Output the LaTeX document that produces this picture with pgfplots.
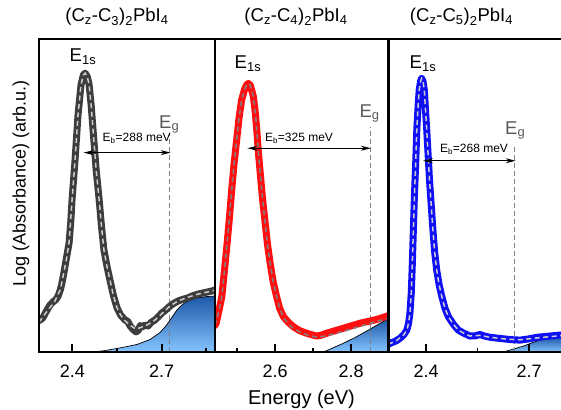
\documentclass[border=0pt]{standalone}
\usepackage{fontspec}
\setmainfont{Liberation Sans}
\usepackage{pgfplots}
\pgfplotsset{compat=1.18}
\usetikzlibrary{arrows.meta}

\definecolor{cthree}{HTML}{3D3D3D}
\definecolor{cfour}{HTML}{FF0F0F}
\definecolor{cfive}{HTML}{1010F5}
\definecolor{edgetop}{HTML}{1C58A8}
\definecolor{edgebot}{HTML}{86C4FF}
\definecolor{eglabel}{HTML}{5A5A5A}

\pgfplotsset{
  panel/.style={
    scale only axis, height=313pt, anchor=south west,
    ymin=0, ymax=1, ytick=\empty,
    axis on top,
    axis line style={line width=2.4pt},
    xtick pos=left, xtick align=inside,
    major tick length=8pt, minor tick length=4.5pt,
    xtick style={draw=black, line width=1.8pt},
    xminorticks=true,
    /pgf/number format/assume math mode=true,
    /pgf/number format/fixed, /pgf/number format/precision=1,
    xticklabel style={font=\fontsize{18}{18}\selectfont, anchor=base, yshift=-25pt},
  },
}
\tikzset{
  meas/.style={line width=7pt, line join=round, line cap=round},
  fitline/.style={line width=1.5pt, dash pattern=on 5pt off 3.5pt},
  edge/.style={draw=black, line width=0.7pt, top color=edgetop, bottom color=edgebot},
  eg/.style={draw=gray, line width=1pt, dash pattern=on 5pt off 3pt},
  eb/.style={{Stealth[length=10pt,width=5pt]}-{Stealth[length=10pt,width=5pt]}, line width=1pt},
}

\newcommand\ttlfont{\fontsize{18.5}{20}\selectfont}
\newcommand\labfont{\fontsize{18.5}{20}\selectfont}
\newcommand\ebfont{\fontsize{12}{14}\selectfont}

\begin{document}
\begin{tikzpicture}
\useasboundingbox (0pt,0pt) rectangle (561pt,-409pt);

% (Cz-C3)2PbI4
\begin{axis}[panel, at={(39pt,-352pt)}, width=176pt,
  xmin=2.288, xmax=2.879, xtick={2.4,2.7}, minor xtick={2.55,2.85}]
\addplot[edge] coordinates {
  (2.470,0) (2.506,0.004) (2.560,0.013) (2.617,0.024) (2.661,0.040)
  (2.694,0.062) (2.714,0.083) (2.728,0.102) (2.751,0.134) (2.770,0.152)
  (2.785,0.162) (2.818,0.173) (2.850,0.177) (2.879,0.179)} \closedcycle;
\draw[eg] (axis cs:2.726,0) -- (axis cs:2.726,0.70);
\addplot[meas, cthree] coordinates {
  (2.288,0.100) (2.300,0.108) (2.315,0.134) (2.325,0.150) (2.335,0.160)
  (2.345,0.168) (2.352,0.178) (2.360,0.200) (2.365,0.220) (2.372,0.255)
  (2.379,0.294) (2.389,0.348) (2.395,0.420) (2.399,0.486) (2.409,0.613)
  (2.419,0.757) (2.429,0.853) (2.437,0.885) (2.443,0.891) (2.450,0.880)
  (2.456,0.856) (2.463,0.790) (2.469,0.716) (2.480,0.581) (2.490,0.486)
  (2.498,0.400) (2.506,0.326) (2.517,0.270) (2.527,0.227) (2.538,0.180)
  (2.550,0.141) (2.562,0.118) (2.577,0.102) (2.586,0.098) (2.594,0.083)
  (2.604,0.072) (2.614,0.064) (2.622,0.070) (2.628,0.085) (2.634,0.080)
  (2.644,0.086) (2.654,0.083) (2.665,0.095) (2.677,0.102) (2.688,0.112)
  (2.701,0.125) (2.712,0.133) (2.728,0.147) (2.740,0.155) (2.755,0.163)
  (2.770,0.168) (2.788,0.173) (2.805,0.180) (2.822,0.185) (2.845,0.190)
  (2.869,0.195) (2.879,0.198)};
\addplot[fitline, gray!40] coordinates {
  (2.288,0.095) (2.315,0.130) (2.340,0.160) (2.360,0.200) (2.379,0.290)
  (2.389,0.350) (2.399,0.486) (2.409,0.613) (2.419,0.757) (2.429,0.853)
  (2.437,0.885) (2.443,0.891) (2.450,0.880) (2.456,0.856) (2.463,0.790)
  (2.469,0.716) (2.480,0.581) (2.490,0.486) (2.498,0.400) (2.506,0.326)
  (2.517,0.270) (2.527,0.227) (2.538,0.180) (2.550,0.141) (2.562,0.118)
  (2.577,0.100) (2.594,0.085) (2.614,0.073) (2.634,0.080) (2.654,0.088)
  (2.677,0.102) (2.701,0.123) (2.728,0.147) (2.755,0.163) (2.788,0.175)
  (2.822,0.185) (2.869,0.195) (2.879,0.198)};
\draw[eb] (axis cs:2.438,0.637) -- (axis cs:2.730,0.637);
\end{axis}

% (Cz-C4)2PbI4
\begin{axis}[panel, at={(215pt,-352pt)}, width=173.3pt,
  xmin=2.442, xmax=2.898, xtick={2.6,2.8}, minor xtick={2.5,2.7}]
\addplot[edge] coordinates {
  (2.727,0) (2.750,0.012) (2.780,0.028) (2.810,0.046) (2.840,0.066)
  (2.868,0.086) (2.898,0.106)} \closedcycle;
\draw[eg] (axis cs:2.852,0) -- (axis cs:2.852,0.72);
\addplot[meas, cfour] coordinates {
  (2.442,0.085) (2.445,0.092) (2.452,0.130) (2.460,0.177) (2.466,0.250)
  (2.473,0.336) (2.480,0.430) (2.486,0.518) (2.492,0.600) (2.499,0.677)
  (2.505,0.745) (2.512,0.805) (2.520,0.840) (2.526,0.855) (2.530,0.858)
  (2.535,0.852) (2.543,0.816) (2.548,0.765) (2.552,0.709) (2.556,0.640)
  (2.561,0.572) (2.567,0.490) (2.574,0.412) (2.580,0.345) (2.587,0.284)
  (2.595,0.225) (2.604,0.177) (2.612,0.140) (2.622,0.113) (2.635,0.095)
  (2.648,0.081) (2.665,0.068) (2.683,0.060) (2.697,0.055) (2.710,0.051)
  (2.722,0.054) (2.736,0.060) (2.758,0.068) (2.780,0.076) (2.802,0.084)
  (2.824,0.092) (2.846,0.098) (2.868,0.104) (2.898,0.116)};
\addplot[fitline, gray] coordinates {
  (2.442,0.085) (2.452,0.130) (2.460,0.177) (2.466,0.250) (2.473,0.336)
  (2.480,0.430) (2.486,0.518) (2.492,0.600) (2.499,0.677) (2.505,0.745)
  (2.512,0.805) (2.520,0.840) (2.526,0.855) (2.530,0.858) (2.535,0.852)
  (2.543,0.816) (2.548,0.765) (2.552,0.709) (2.556,0.640) (2.561,0.572)
  (2.567,0.490) (2.574,0.412) (2.580,0.345) (2.587,0.284) (2.595,0.225)
  (2.604,0.177) (2.612,0.140) (2.622,0.110) (2.635,0.090) (2.648,0.076)
  (2.665,0.064) (2.683,0.055) (2.710,0.047) (2.736,0.052) (2.780,0.066)
  (2.824,0.082) (2.868,0.098) (2.898,0.108)};
\draw[eb] (axis cs:2.527,0.651) -- (axis cs:2.852,0.651);
\end{axis}

% (Cz-C5)2PbI4
\begin{axis}[panel, at={(388.3pt,-352pt)}, width=174.7pt,
  xmin=2.290, xmax=2.799, xtick={2.4,2.7}, minor xtick={2.55}]
\addplot[edge] coordinates {
  (2.625,0) (2.650,0.008) (2.684,0.019) (2.710,0.030) (2.732,0.038)
  (2.760,0.044) (2.799,0.048)} \closedcycle;
\draw[eg] (axis cs:2.659,0) -- (axis cs:2.659,0.66);
\addplot[meas, cfive] coordinates {
  (2.290,0.025) (2.300,0.030) (2.312,0.035) (2.324,0.044) (2.335,0.055)
  (2.344,0.070) (2.349,0.092) (2.353,0.124) (2.357,0.190) (2.360,0.283)
  (2.363,0.390) (2.366,0.496) (2.370,0.610) (2.373,0.709) (2.377,0.790)
  (2.380,0.837) (2.384,0.865) (2.387,0.874) (2.391,0.865) (2.395,0.837)
  (2.398,0.780) (2.402,0.709) (2.406,0.630) (2.410,0.550) (2.415,0.470)
  (2.420,0.390) (2.425,0.320) (2.431,0.262) (2.438,0.215) (2.446,0.177)
  (2.455,0.140) (2.465,0.113) (2.480,0.088) (2.494,0.070) (2.510,0.060)
  (2.528,0.051) (2.545,0.052) (2.557,0.056) (2.570,0.051) (2.587,0.047)
  (2.610,0.044) (2.635,0.041) (2.655,0.039) (2.674,0.038) (2.700,0.042)
  (2.723,0.047) (2.760,0.051) (2.799,0.055)};
\addplot[fitline, gray!40] coordinates {
  (2.290,0.025) (2.312,0.035) (2.335,0.055) (2.344,0.070) (2.349,0.092)
  (2.353,0.124) (2.357,0.190) (2.360,0.283) (2.363,0.390) (2.366,0.496)
  (2.370,0.610) (2.373,0.709) (2.377,0.790) (2.380,0.837) (2.384,0.865)
  (2.387,0.874) (2.391,0.865) (2.395,0.837) (2.398,0.780) (2.402,0.709)
  (2.406,0.630) (2.410,0.550) (2.415,0.470) (2.420,0.390) (2.425,0.320)
  (2.431,0.262) (2.438,0.215) (2.446,0.177) (2.455,0.140) (2.465,0.113)
  (2.480,0.088) (2.494,0.070) (2.510,0.060) (2.528,0.051) (2.557,0.053)
  (2.587,0.047) (2.635,0.041) (2.674,0.039) (2.723,0.045) (2.799,0.053)};
\draw[eb] (axis cs:2.391,0.611) -- (axis cs:2.661,0.611);
\end{axis}

% titles
\node[anchor=base] at (117pt,-22pt) {\ttlfont (C\textsubscript{z}-C\textsubscript{3})\textsubscript{2}PbI\textsubscript{4}};
\node[anchor=base] at (296pt,-22pt) {\ttlfont (C\textsubscript{z}-C\textsubscript{4})\textsubscript{2}PbI\textsubscript{4}};
\node[anchor=base] at (461.5pt,-22pt) {\ttlfont (C\textsubscript{z}-C\textsubscript{5})\textsubscript{2}PbI\textsubscript{4}};

% peak and gap labels
\node[anchor=base, inner sep=0pt] at (83pt,-62pt) {\labfont E\textsubscript{1s}};
\node[anchor=base, inner sep=0pt] at (248pt,-68.3pt) {\labfont E\textsubscript{1s}};
\node[anchor=base, inner sep=0pt] at (423pt,-68.3pt) {\labfont E\textsubscript{1s}};
\node[anchor=base west, inner sep=0pt, text=eglabel] at (159pt,-128pt) {\labfont E\textsubscript{g}};
\node[anchor=base west, inner sep=0pt, text=eglabel] at (359.3pt,-117.3pt) {\labfont E\textsubscript{g}};
\node[anchor=base west, inner sep=0pt, text=eglabel] at (505pt,-134pt) {\labfont E\textsubscript{g}};
\node[anchor=base, inner sep=0pt] at (136.7pt,-141.7pt) {\ebfont E\textsubscript{b}=288 meV};
\node[anchor=base, inner sep=0pt] at (299pt,-141.7pt) {\ebfont E\textsubscript{b}=325 meV};
\node[anchor=base, inner sep=0pt] at (474pt,-152.7pt) {\ebfont E\textsubscript{b}=268 meV};

% axis labels
\node[anchor=base] at (301.5pt,-404pt) {\fontsize{20}{22}\selectfont Energy (eV)};
\node[rotate=90] at (21pt,-183.5pt) {\fontsize{18}{20}\selectfont Log (Absorbance) (arb.u.)};
\end{tikzpicture}
\end{document}
